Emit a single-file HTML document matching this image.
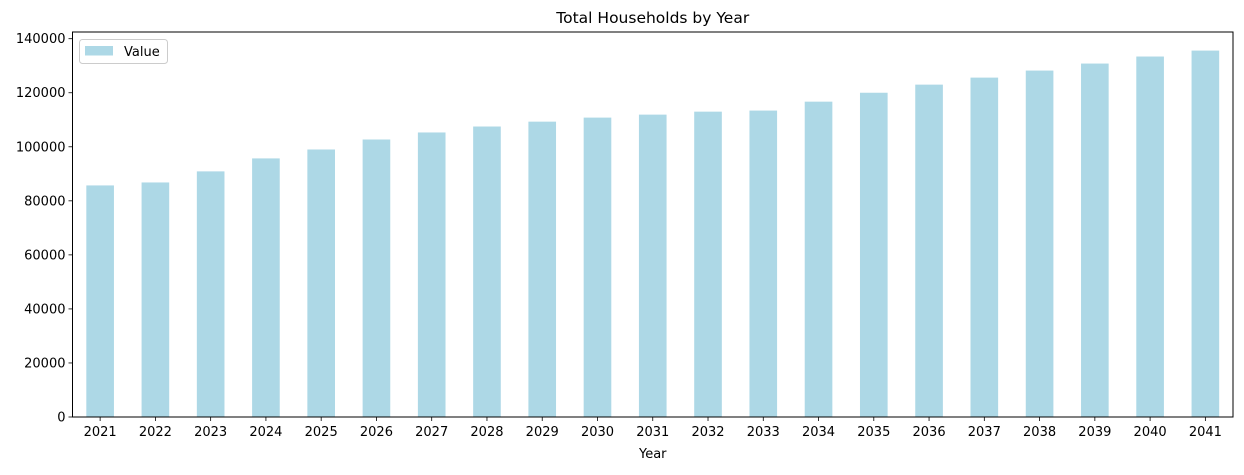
<!DOCTYPE html>
<html><head><meta charset="utf-8"><style>
body{margin:0;background:#fff;font-family:"Liberation Sans","DejaVu Sans",sans-serif;}
svg text{font-family:"DejaVu Sans","Liberation Sans",sans-serif;fill:#000;}
</style></head><body>
<svg id="chart" width="1244" height="470"></svg>
<script>
const years=["2021","2022","2023","2024","2025","2026","2027","2028","2029","2030","2031","2032","2033","2034","2035","2036","2037","2038","2039","2040","2041"];
const values=[85700,86800,90900,95700,99000,102700,105300,107500,109300,110800,111900,113000,113400,116700,120000,123000,125600,128200,130800,133400,135600];
const yTicks=[0,20000,40000,60000,80000,100000,120000,140000];
const svg=document.getElementById('chart');
const NS='http://www.w3.org/2000/svg';
const L=72.5,R=1233,T=32,B=417;
const step=(R-L)/years.length;
function x(i){return L+step*(i+0.5);}
function y(v){return B-v*(B-38.7)/140000;}
function mk(t,a,p){const e=document.createElementNS(NS,t);for(const k in a)e.setAttribute(k,a[k]);(p||svg).appendChild(e);return e;}
const bars=mk('g',{});


values.forEach((v,i)=>{const r=mk('rect',{x:x(i)-step*0.25,y:y(v),width:step*0.5,height:B-y(v),fill:'#add8e6'},bars);

});
yTicks.forEach(t=>{mk('line',{x1:L-4,x2:L,y1:y(t),y2:y(t),stroke:'#000','stroke-width':0.8});
const tx=mk('text',{x:L-7,y:y(t)+4.5,'text-anchor':'end','font-size':13});tx.textContent=t;

});
years.forEach((yr,i)=>{mk('line',{x1:x(i),x2:x(i),y1:B,y2:B+4,stroke:'#000','stroke-width':0.8});
const tx=mk('text',{x:x(i),y:B+19,'text-anchor':'middle','font-size':13});tx.textContent=yr;

});
const fr=mk('rect',{x:L,y:T,width:R-L,height:B-T,fill:'none',stroke:'#000','stroke-width':1});


const ti=mk('text',{x:(L+R)/2,y:23,'text-anchor':'middle','font-size':15.5});ti.textContent='Total Households by Year';


const xl=mk('text',{x:(L+R)/2,y:458,'text-anchor':'middle','font-size':13});xl.textContent='Year';


const lg=mk('g',{});


mk('rect',{x:79.5,y:39.5,width:88,height:24,rx:3,fill:'#fff',stroke:'#ccc'},lg);
mk('rect',{x:85,y:46,width:28,height:9.5,fill:'#add8e6'},lg);
const lt=mk('text',{x:124,y:56,'font-size':13},lg);lt.textContent='Value';


</script>
</body></html>
